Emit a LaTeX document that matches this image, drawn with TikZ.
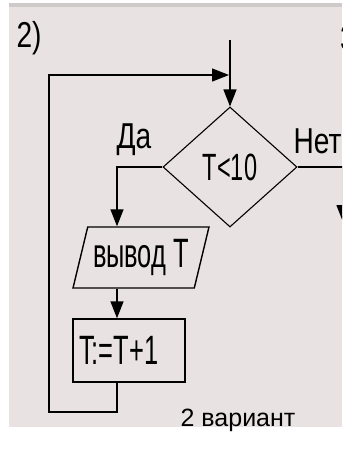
\documentclass[tikz,border=0pt]{standalone}
\usepackage{fontspec}
\setmainfont{Liberation Sans}
\newfontfamily\blockfont[FakeStretch=0.62]{Liberation Sans}
\newfontfamily\labelfont[FakeStretch=0.78]{Liberation Sans}
\usepackage{tikz}
\usepackage{xcolor}
\usetikzlibrary{arrows.meta,positioning,shapes.geometric}
\definecolor{paper}{RGB}{233,226,226}
\definecolor{band}{RGB}{206,202,202}

\begin{document}
\begin{tikzpicture}[x=1pt,y=-1pt,
line width=1.4pt,
decision/.style={draw,diamond,line width=1.1pt,minimum width=134pt,minimum height=120pt,inner sep=0pt,font={\blockfont\fontsize{38}{40}\selectfont}},
iobox/.style={draw,trapezium,trapezium left angle=70,trapezium right angle=110,trapezium stretches=true,minimum width=136pt,minimum height=61pt,inner sep=0pt,font={\blockfont\fontsize{41}{43}\selectfont}},
actbox/.style={draw,minimum height=63pt,text width=100pt,inner xsep=6pt,align=left,font={\blockfont\fontsize{41}{43}\selectfont}},
lbl/.style={inner sep=0pt,font={\labelfont\fontsize{36}{38}\selectfont}},
arrow/.style={-{Triangle[length=17pt,width=13pt]}}
]
\useasboundingbox (0,0) rectangle (347,451);
\fill[paper] (9,3) rectangle (342,427);
\fill[band] (9,3) rectangle (342,7);

\node[lbl] (num) at (29,38) {2)};
\node[decision] (cond) at (230,167) {T<10};
\node[iobox] (out) at (141,257.5) {вывод T};
\node[actbox] (act) at (129,350.5) {T:=T+1};
\node[lbl] (yes) at (134,140) {Да};
\node[lbl,anchor=west] (no) at (293,141) {Нет};
\node[inner sep=0pt,font=\fontsize{25}{27}\selectfont] (caption) at (238,420) {2 вариант};

\coordinate (lane) at (117,0);
\coordinate (entry) at (230,40);
\coordinate (join) at (229,75);
\coordinate (back) at (49,412);

\draw[arrow] (entry) -- (cond.north);
\draw[arrow] (cond.west) -| (out.north -| lane);
\draw[arrow] (out.south -| lane) -- (act.north -| lane);
\draw[arrow] (act.south -| lane) |- (back) |- (join);

% next variant, cut off at the edge
\begin{scope}
\clip (9,3) rectangle (342,427);
\node[lbl] (next) at (348,38) {3};
\coordinate (noexit) at (343,167);
\coordinate (nodown) at (343,222);
\draw[arrow] (cond.east) -- (noexit) -- (nodown);
\end{scope}
\end{tikzpicture}
\end{document}
